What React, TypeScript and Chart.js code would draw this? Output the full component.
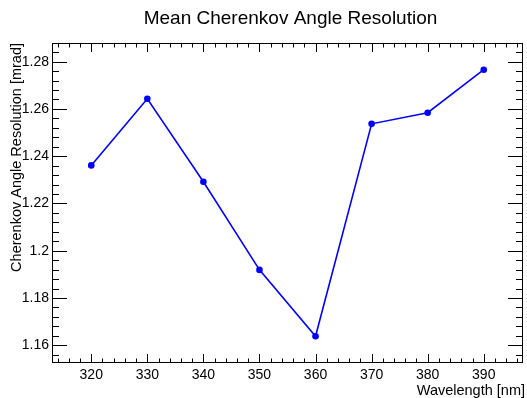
import React, { useEffect, useRef } from "react";
import { Chart, registerables } from "chart.js";

Chart.register(...registerables);

const wavelengths = [320, 330, 340, 350, 360, 370, 380, 390];
const resolution = [1.2361, 1.2643, 1.2292, 1.1919, 1.1638, 1.2537, 1.2584, 1.2766];
const xTickValues = [320, 330, 340, 350, 360, 370, 380, 390];
const yTickValues = [1.16, 1.18, 1.2, 1.22, 1.24, 1.26, 1.28];

const titleText = "Mean Cherenkov Angle Resolution";
const xTitle = "Wavelength [nm]";
const yTitle = "Cherenkov Angle Resolution [mrad]";
const FONT = "'Liberation Sans', Arial, sans-serif";

const rootPlugin = {
  id: "rootStyle",
  afterDraw(chart: any) {
    const { ctx, chartArea } = chart;
    const xs = chart.scales.x;
    const ys = chart.scales.y;
    const { left, right, top, bottom } = chartArea;
    ctx.save();
    ctx.strokeStyle = "#000";
    ctx.lineWidth = 1;
    // frame
    ctx.strokeRect(Math.round(left) + 0.5, Math.round(top) + 0.5, Math.round(right - left) - 1, Math.round(bottom - top) - 1);
    // x ticks
    ctx.beginPath();
    for (let v = Math.ceil(xs.min / 2) * 2; v <= xs.max; v += 2) {
      const px = Math.round(xs.getPixelForValue(v)) + 0.5;
      const major = v % 10 === 0;
      const len = major ? 9 : 4.5;
      ctx.moveTo(px, bottom);
      ctx.lineTo(px, bottom - len);
      ctx.moveTo(px, top);
      ctx.lineTo(px, top + len);
    }
    // y ticks
    const step = 0.004;
    const start = Math.ceil(ys.min / step - 1e-6);
    for (let i = start; i * step <= ys.max + 1e-9; i++) {
      const v = i * step;
      const py = Math.round(ys.getPixelForValue(v)) + 0.5;
      const major = i % 5 === 0;
      const len = major ? 15 : 7;
      ctx.moveTo(left, py);
      ctx.lineTo(left + len, py);
      ctx.moveTo(right, py);
      ctx.lineTo(right - len, py);
    }
    ctx.stroke();

    // titles
    ctx.fillStyle = "#000";
    ctx.font = `19px ${FONT}`;
    ctx.textAlign = "center";
    ctx.textBaseline = "alphabetic";
    ctx.fillText(titleText, 290.5, 24);

    ctx.font = `14.5px ${FONT}`;
    ctx.textAlign = "right";
    ctx.fillText(xTitle, 525, 395);

    ctx.translate(21, 43);
    ctx.rotate(-Math.PI / 2);
    ctx.textAlign = "right";
    ctx.fillText(yTitle, 0, 0);
    ctx.restore();
  },
};

export default function App() {
  const ref = useRef<HTMLCanvasElement>(null);
  useEffect(() => {
    document.body.style.margin = "0";
    const chart = new Chart(ref.current!, {
      type: "line",
      data: {
        datasets: [
          {
            data: wavelengths.map((x, i) => ({ x, y: resolution[i] })),
            borderColor: "#0000ff",
            backgroundColor: "#0000ff",
            borderWidth: 1.6,
            pointRadius: 3.3,
            pointBorderWidth: 0,
            tension: 0,
          },
        ],
      },
      options: {
        animation: false,
        responsive: false,
        events: [],
        layout: { padding: { top: 43, right: 2, left: 0, bottom: 0 } },
        plugins: { legend: { display: false }, title: { display: false }, tooltip: { enabled: false } },
        scales: {
          x: {
            type: "linear",
            min: 313,
            max: 397,
            grid: { display: false, drawTicks: false },
            border: { display: false },
            afterBuildTicks: (s: any) => {
              s.ticks = xTickValues.map((v) => ({ value: v }));
            },
            afterFit: (s: any) => {
              s.height = 35;
            },
            ticks: {
              padding: 4,
              maxRotation: 0,
              autoSkip: false,
              color: "#000",
              font: { family: FONT, size: 14 },
              callback: (v: any) => String(v),
            },
          },
          y: {
            type: "linear",
            min: 1.1525,
            max: 1.2879,
            grid: { display: false, drawTicks: false },
            border: { display: false },
            afterBuildTicks: (s: any) => {
              s.ticks = yTickValues.map((v) => ({ value: v }));
            },
            afterFit: (s: any) => {
              s.width = 52;
            },
            ticks: {
              padding: 3,
              autoSkip: false,
              color: "#000",
              font: { family: FONT, size: 14 },
              callback: (v: any) => String(Math.round(v * 100) / 100),
            },
          },
        },
      },
      plugins: [rootPlugin],
    });
    return () => chart.destroy();
  }, []);
  return (
    <div style={{ width: 527, height: 398, position: "relative", background: "#fff" }}>
      <canvas ref={ref} width={527} height={398} style={{ width: 527, height: 398, display: "block" }} />
    </div>
  );
}
